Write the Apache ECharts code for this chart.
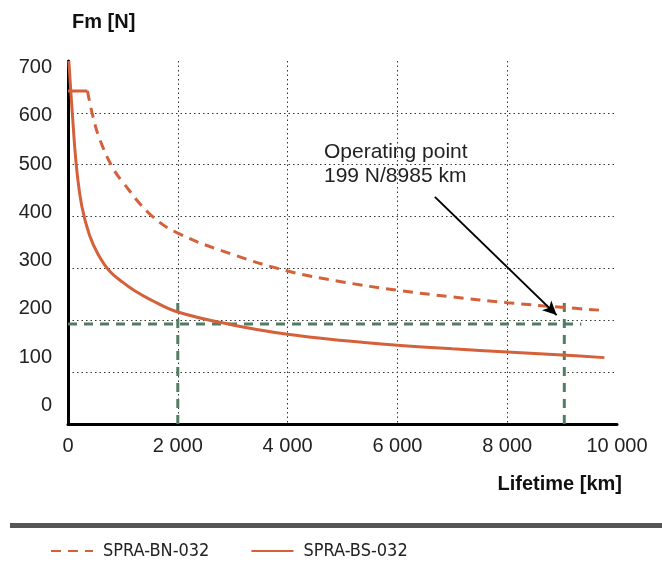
<!DOCTYPE html>
<html>
<head>
<meta charset="utf-8">
<script src="https://cdn.jsdelivr.net/npm/echarts@6/dist/echarts.min.js"></script>
<style>
html, body { margin: 0; padding: 0; background: #fff; }
#main { width: 662px; height: 571px; }
</style>
</head>
<body>
<div id="main"></div>
<script>
// SPRA-BS-032 (solid)
const bsKm = [15, 75, 155, 250, 392, 550, 756, 1000, 1200, 1500, 2000, 3000, 4000, 5000, 6000, 7000, 8000, 9000, 9770];
const bsN = [700, 605, 495, 421, 364, 327, 295, 273, 258, 240, 216, 191, 173, 161, 152, 145, 139, 133, 128];
// SPRA-BN-032 (flat start, then dashed)
const bnFlatKm = [0, 355];
const bnFlatN = [642, 642];
const bnKm = [355, 445, 575, 800, 1000, 1500, 2000, 3000, 4000, 5000, 6000, 7000, 8000, 9000, 9750];
const bnN = [642, 597, 550, 497, 466, 404, 368, 327, 295, 274, 258, 245, 234, 225, 219];
// operating point guide lines (green)
const guideH = [[0, 193], [9350, 193]];
const guideV1 = [[2000, 0], [2000, 235]];
const guideV2 = [[9040, 0], [9040, 235]];
// arrow of the annotation, start -> end
const arrowFrom = [6682, 438];
const arrowTo = [8901, 210];

const yTickLabels = [0, 100, 200, 300, 400, 500, 600, 700];

const orange = '#d4613a';
const green = '#507d64';
const font = "'Liberation Sans', Arial, Helvetica, sans-serif";

function zip(a, b) {
    return a.map((v, i) => [v, b[i]]);
}

const chart = echarts.init(document.getElementById('main'));

const gridLine = {
    show: true,
    showMaxLine: false,
    lineStyle: { color: '#333', width: 1, type: [1.5, 3] }
};

const option = {
    animation: false,
    grid: { left: 68, right: 45, top: 61, bottom: 147, containLabel: false },
    legend: {
        data: ['SPRA-BN-032', 'SPRA-BS-032'],
        left: 50,
        top: 542,
        padding: 0,
        itemWidth: 42,
        itemHeight: 16,
        itemGap: 41,
        itemStyle: { opacity: 0 },
        textStyle: {
            fontFamily: "'Liberation Sans Narrow', 'DejaVu Sans Condensed', sans-serif",
            fontSize: 18,
            color: '#222',
            padding: [0, 0, 0, 5]
        }
    },
    xAxis: {
        type: 'value',
        min: 0,
        max: 10000,
        interval: 2000,
        axisLine: { show: true, lineStyle: { color: '#000', width: 3 } },
        axisTick: { show: false },
        axisLabel: {
            margin: 12,
            fontSize: 20,
            fontFamily: font,
            color: '#222',
            formatter: v => String(v).replace(/\B(?=(\d{3})+(?!\d))/g, ' ')
        },
        splitLine: gridLine
    },
    yAxis: [
        {
            type: 'value',
            min: 0,
            max: 700,
            interval: 100,
            axisLine: { show: true, lineStyle: { color: '#000', width: 3 } },
            axisTick: { show: false },
            axisLabel: { show: false },
            splitLine: gridLine
        },
        {
            // labels only, sit slightly off the grid like in the source picture
            type: 'value',
            position: 'left',
            min: -38.3,
            max: 713.4,
            splitNumber: 7,
            axisLine: { show: false },
            axisTick: { show: false },
            splitLine: { show: false },
            axisLabel: {
                margin: 16,
                fontSize: 20,
                fontFamily: font,
                color: '#222',
                showMinLabel: false,
                showMaxLabel: false,
                formatter: v => yTickLabels.indexOf(Math.round(v)) >= 0 && Math.abs(v - Math.round(v)) < 1e-6 ? String(Math.round(v)) : ''
            }
        }
    ],
    series: [
        {
            name: 'guideH',
            type: 'line',
            data: guideH,
            symbol: 'none',
            lineStyle: { color: green, width: 3, type: [9, 7] },
            z: 2
        },
        {
            name: 'guideV1',
            type: 'line',
            data: guideV1,
            symbol: 'none',
            lineStyle: { color: green, width: 3, type: [9, 7] },
            z: 2
        },
        {
            name: 'guideV2',
            type: 'line',
            data: guideV2,
            symbol: 'none',
            lineStyle: { color: green, width: 3, type: [9, 7] },
            z: 2,
            markLine: {
                silent: true,
                symbol: ['none', 'arrow'],
                symbolSize: [10, 14],
                label: { show: false },
                lineStyle: { color: '#000', width: 2, type: 'solid' },
                data: [[{ coord: arrowFrom }, { coord: arrowTo }]]
            }
        },
        {
            name: 'bnFlat',
            type: 'line',
            data: zip(bnFlatKm, bnFlatN),
            symbol: 'none',
            color: orange,
            lineStyle: { color: orange, width: 3 },
            z: 3
        },
        {
            name: 'SPRA-BN-032',
            type: 'line',
            data: zip(bnKm, bnN),
            symbol: 'none',
            smooth: 0.4,
            color: orange,
            lineStyle: { color: orange, width: 3, type: [10, 7] },
            z: 3
        },
        {
            name: 'SPRA-BS-032',
            type: 'line',
            data: zip(bsKm, bsN),
            symbol: 'none',
            smooth: 0.4,
            color: orange,
            lineStyle: { color: orange, width: 3 },
            z: 3
        }
    ],
    graphic: [
        {
            type: 'text',
            left: 72,
            top: 12,
            style: { text: 'Fm [N]', font: 'bold 20px ' + font, fill: '#111' }
        },
        {
            type: 'text',
            x: 622,
            y: 484,
            style: { text: 'Lifetime [km]', font: 'bold 20px ' + font, fill: '#111', align: 'right', verticalAlign: 'middle' }
        },
        {
            type: 'text',
            x: 324,
            y: 140,
            style: { text: 'Operating point\n199 N/8985 km', font: '21px ' + font, fill: '#222', lineHeight: 24, verticalAlign: 'top' }
        },
        {
            type: 'rect',
            shape: { x: 10, y: 523, width: 652, height: 5 },
            style: { fill: '#555' }
        }
    ]
};

chart.setOption(option);
</script>
</body>
</html>
